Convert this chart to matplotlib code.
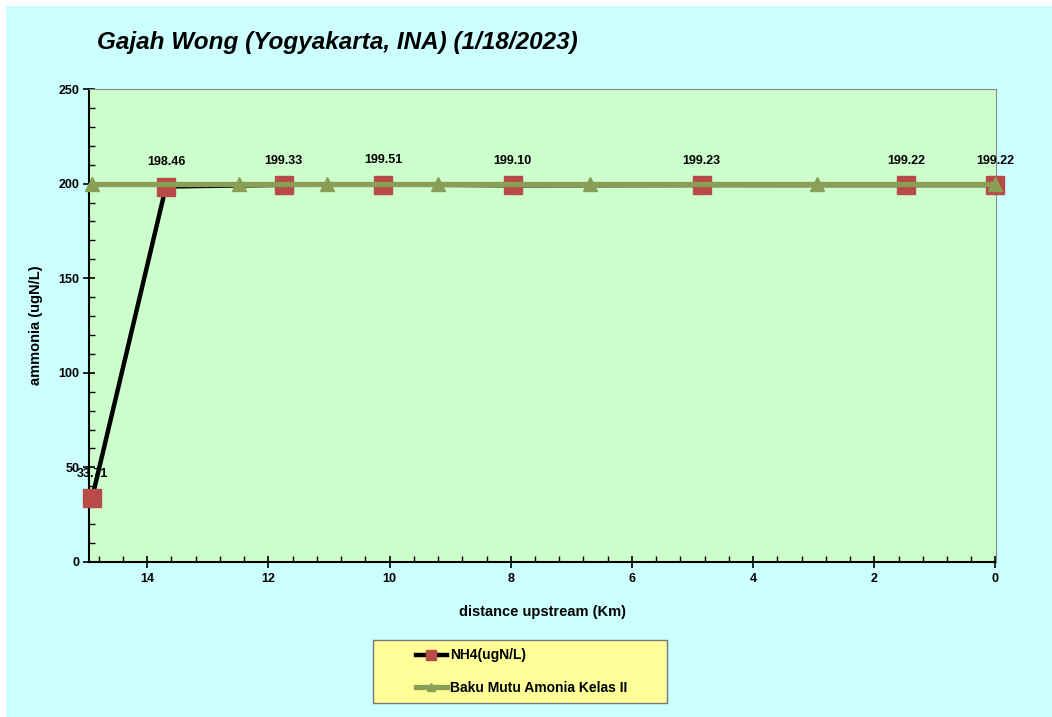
import matplotlib.pyplot as plt
from matplotlib.patches import Rectangle
from matplotlib.ticker import MultipleLocator

plt.rcParams['font.family'] = ['Liberation Sans', 'DejaVu Sans']

# Data
nh4_km = [14.91, 13.69, 11.75, 10.11, 7.97, 4.85, 1.47, 0.0]
nh4_val = [33.71, 198.46, 199.33, 199.51, 199.10, 199.23, 199.22, 199.22]
baku_km = [14.91, 12.48, 11.03, 9.20, 6.70, 2.95, 0.0]
baku_val = [200, 200, 200, 200, 200, 200, 200]

W, H = 1052, 717
fig = plt.figure(figsize=(W / 100, H / 100), dpi=100)
fig.patch.set_facecolor('white')
fig.patches.append(Rectangle((6 / W, 0), 1, 1 - 6 / H, transform=fig.transFigure,
                             facecolor='#CCFFFF', edgecolor='none', zorder=-10))

ax = fig.add_axes([89 / W, 1 - 562 / H, 906.5 / W, 473 / H])
ax.set_facecolor('#CCFFCC')

ax.plot(nh4_km, nh4_val, color='black', lw=3.2, marker='s', ms=12.5,
        mfc='#B84A47', mec='#B84A47', label='NH4(ugN/L)', zorder=3, clip_on=False)
ax.plot(baku_km, baku_val, color='#8A9F55', lw=3.8, marker='^', ms=10,
        mfc='#8A9F55', mec='#8A9F55', label='Baku Mutu Amonia Kelas II', zorder=4, clip_on=False)

for x, y in zip(nh4_km, nh4_val):
    ax.annotate(f'{y:.2f}', (x, y), xytext=(0, 13), textcoords='offset points',
                ha='center', va='bottom', fontsize=9, fontweight='bold')

ax.set_xlim(14.96, 0)
ax.set_ylim(0, 250)
ax.xaxis.set_major_locator(MultipleLocator(2))
ax.xaxis.set_minor_locator(MultipleLocator(0.4))
ax.yaxis.set_major_locator(MultipleLocator(50))
ax.yaxis.set_minor_locator(MultipleLocator(10))
ax.tick_params(which='major', direction='inout', length=8, width=1.2, labelsize=9)
ax.tick_params(which='minor', direction='in', length=4, width=1)
for lab in ax.get_xticklabels() + ax.get_yticklabels():
    lab.set_fontweight('bold')
ax.tick_params(axis='x', pad=4)
ax.tick_params(axis='y', pad=3)

ax.spines['left'].set_color('black')
ax.spines['bottom'].set_color('black')
ax.spines['left'].set_linewidth(1.5)
ax.spines['bottom'].set_linewidth(1.5)
ax.spines['top'].set_color('#888888')
ax.spines['right'].set_color('#888888')

ax.set_xlabel('distance upstream (Km)', fontsize=10.5, fontweight='bold', labelpad=14)
ax.set_ylabel('ammonia (ugN/L)', fontsize=10.5, fontweight='bold', labelpad=11)

fig.text(97 / W, 1 - 42 / H, 'Gajah Wong (Yogyakarta, INA) (1/18/2023)', fontsize=17.5,
         fontweight='bold', fontstyle='italic', ha='left', va='center')

# legend box
fig.patches.append(Rectangle((373 / W, 1 - 703 / H), 294 / W, 63 / H, transform=fig.transFigure,
                             facecolor='#FFFF99', edgecolor='#777777', lw=1, zorder=1))
leg = fig.legend(loc='center left', bbox_to_anchor=(403 / W, 1 - 671.5 / H),
                 frameon=False, prop={'weight': 'bold', 'size': 10},
                 handlelength=2.3, handletextpad=0.2, markerscale=0.6, labelspacing=1.3)
leg.set_zorder(2)

fig.savefig('out.png', dpi=100, facecolor=fig.get_facecolor())
